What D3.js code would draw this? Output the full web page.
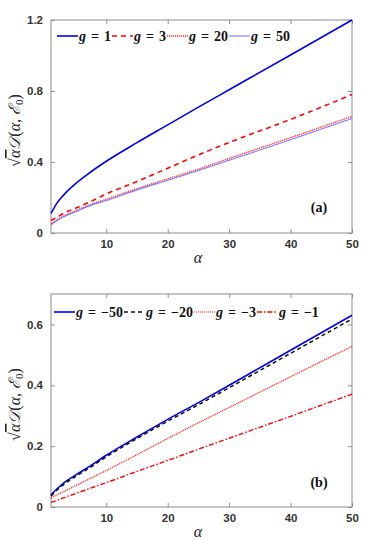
<!DOCTYPE html>
<html>
<head>
<meta charset="utf-8">
<script src="https://cdn.jsdelivr.net/npm/d3@7"></script>
<style>
  body { margin: 0; background: #fff; }
  svg { display: block; }
</style>
</head>
<body>
<div id="chart"></div>
<script>
// sampled alpha values (shared by both panels)
var alphaPts = [1, 2, 3, 5, 7, 10, 15, 20, 25, 30, 40, 50];

// panel (a), positive g
var gPos1  = [0.11, 0.17, 0.212, 0.278, 0.332, 0.404, 0.509, 0.609, 0.709, 0.807, 1.003, 1.20];
var gPos3  = [0.07, 0.09, 0.11, 0.14, 0.17, 0.22, 0.29, 0.365, 0.44, 0.51, 0.64, 0.78];
var gPos20 = [0.05, 0.075, 0.095, 0.125, 0.155, 0.19, 0.25, 0.305, 0.36, 0.42, 0.537, 0.657];
var gPos50 = [0.045, 0.07, 0.09, 0.12, 0.15, 0.183, 0.243, 0.297, 0.352, 0.41, 0.525, 0.645];

// panel (b), negative g
var gNeg50 = [0.04, 0.06, 0.078, 0.105, 0.13, 0.17, 0.23, 0.288, 0.343, 0.40, 0.515, 0.63];
var gNeg20 = [0.036, 0.056, 0.073, 0.10, 0.125, 0.165, 0.225, 0.282, 0.336, 0.392, 0.505, 0.618];
var gNeg3  = [0.03, 0.04, 0.05, 0.07, 0.09, 0.12, 0.172, 0.225, 0.277, 0.327, 0.428, 0.528];
var gNeg1  = [0.015, 0.022, 0.03, 0.044, 0.059, 0.08, 0.117, 0.153, 0.19, 0.226, 0.298, 0.371];

var xTicks  = [10, 20, 30, 40, 50];
var yTicksA = [0, 0.4, 0.8, 1.2];
var yTicksB = [0, 0.2, 0.4, 0.6];

var W = 390, H = 541;
var left = 51, right = 352;
var axisColor = '#8c8c8c';
var serif = '"Liberation Serif", "DejaVu Serif", serif';
var sans = '"Liberation Sans", Arial, sans-serif';

var svg = d3.select('#chart').append('svg')
  .attr('width', W).attr('height', H);

function styleAxis(s){
  s.select('.domain').remove();
  s.selectAll('line').attr('stroke', axisColor);
  s.selectAll('text')
    .attr('font-family', sans).attr('font-weight', 'bold')
    .attr('font-size', 11.5).attr('fill', '#333');
}

function drawPanel(p){
  var x = d3.scaleLinear().domain([1, 50]).range([left, right]);
  var y = d3.scaleLinear().domain(p.ydomain).range([p.bottom, p.top]);
  var g = svg.append('g');

  // box
  g.append('rect')
    .attr('x', left).attr('y', p.top)
    .attr('width', right - left).attr('height', p.bottom - p.top)
    .attr('fill', 'none').attr('stroke', axisColor).attr('stroke-width', 1);

  // axes, ticks pointing inward
  var fmt = function(d){ return d === 0 ? '0' : d3.format('.1f')(d); };
  g.append('g').attr('transform', 'translate(0,' + p.bottom + ')')
    .call(d3.axisBottom(x).tickValues(xTicks).tickSizeInner(-4).tickSizeOuter(0).tickPadding(7))
    .call(styleAxis);
  g.append('g').attr('transform', 'translate(0,' + p.top + ')')
    .call(d3.axisTop(x).tickValues(xTicks).tickSizeInner(-4).tickSizeOuter(0).tickFormat(''))
    .call(styleAxis);
  g.append('g').attr('transform', 'translate(' + left + ',0)')
    .call(d3.axisLeft(y).tickValues(p.yticks).tickSizeInner(-4).tickSizeOuter(0).tickPadding(8).tickFormat(fmt))
    .call(styleAxis);
  g.append('g').attr('transform', 'translate(' + right + ',0)')
    .call(d3.axisRight(y).tickValues(p.yticks).tickSizeInner(-4).tickSizeOuter(0).tickFormat(''))
    .call(styleAxis);

  // curves
  var line = d3.line()
    .x(function(d, i){ return x(alphaPts[i]); })
    .y(function(d){ return y(d); })
    .curve(d3.curveMonotoneX);

  p.series.forEach(function(s){
    g.append('path')
      .datum(s.values)
      .attr('d', line)
      .attr('fill', 'none')
      .attr('stroke', s.color)
      .attr('stroke-width', s.width)
      .attr('stroke-dasharray', s.dash);
  });

  // legend
  var lx = p.legendX;
  p.series.forEach(function(s){
    g.append('line')
      .attr('x1', lx).attr('x2', lx + 21)
      .attr('y1', p.legendY).attr('y2', p.legendY)
      .attr('stroke', s.color).attr('stroke-width', s.width)
      .attr('stroke-dasharray', s.dash);
    lx += 22;
    var t = g.append('text')
      .attr('x', lx).attr('y', p.legendY + 4.5)
      .attr('font-family', serif).attr('font-weight', 'bold')
      .attr('font-size', 14).attr('fill', '#111');
    t.append('tspan').attr('font-style', 'italic').text('g');
    t.append('tspan').attr('dx', 5).text('=');
    t.append('tspan').attr('dx', 5).text(s.label);
    var bb = t.node().getBBox();
    lx = bb.x + bb.width + 1;
  });

  // panel tag
  g.append('text')
    .attr('x', 319).attr('y', p.tagY)
    .attr('text-anchor', 'middle')
    .attr('font-family', serif).attr('font-weight', 'bold').attr('font-size', 14)
    .attr('fill', '#111')
    .text(p.tag);

  // x label
  g.append('text')
    .attr('x', 198).attr('y', p.bottom + 30)
    .attr('text-anchor', 'middle')
    .attr('font-family', serif).attr('font-style', 'italic').attr('font-size', 16)
    .attr('fill', '#222')
    .text('α');

  // y label
  var yl = g.append('text')
    .attr('transform', 'translate(20,' + ((p.top + p.bottom) / 2 + 4) + ') rotate(-90)')
    .attr('text-anchor', 'middle')
    .attr('font-family', serif).attr('font-size', 16)
    .attr('fill', '#222');
  yl.append('tspan').text('√');
  yl.append('tspan').attr('font-style', 'italic').style('text-decoration', 'overline').text('α');
  yl.append('tspan').attr('font-style', 'italic').text('𝒟');
  yl.append('tspan').text('(');
  yl.append('tspan').attr('font-style', 'italic').text('α');
  yl.append('tspan').text(', ');
  yl.append('tspan').attr('font-style', 'italic').text('ℰ');
  yl.append('tspan').attr('font-size', 11).attr('dy', 3).text('0');
  yl.append('tspan').attr('dy', -3).text(')');
}

drawPanel({
  top: 20, bottom: 233, ydomain: [0, 1.2], yticks: yTicksA,
  legendX: 57, legendY: 36, tag: '(a)', tagY: 212,
  series: [
    { label: '1',  values: gPos1,  color: '#0000ee', width: 1.6, dash: null },
    { label: '3',  values: gPos3,  color: '#ff0000', width: 1.6, dash: '5,4' },
    { label: '20', values: gPos20, color: '#ff3030', width: 1.4, dash: '1.2,0.8' },
    { label: '50', values: gPos50, color: '#7a7aff', width: 1.1, dash: null }
  ]
});

drawPanel({
  top: 294, bottom: 507, ydomain: [0, 0.7], yticks: yTicksB,
  legendX: 54, legendY: 312, tag: '(b)', tagY: 487,
  series: [
    { label: '−50', values: gNeg50, color: '#0000ee', width: 1.6, dash: null },
    { label: '−20', values: gNeg20, color: '#111111', width: 1.5, dash: '4,3' },
    { label: '−3',  values: gNeg3,  color: '#ff2020', width: 1.2, dash: '1.2,0.8' },
    { label: '−1',  values: gNeg1,  color: '#ff0000', width: 1.4, dash: '5,2,1.5,2' }
  ]
});
</script>
</body>
</html>
